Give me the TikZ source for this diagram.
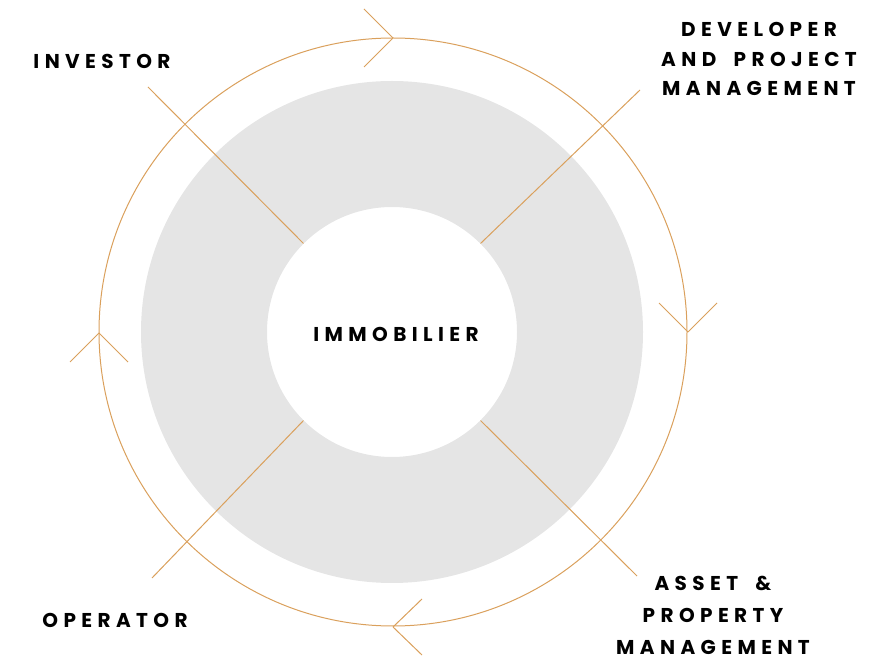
\documentclass[tikz,border=0pt]{standalone}
\usepackage{fontspec}
\usetikzlibrary{positioning}
\newfontfamily\labfont{Poppins}[LetterSpace=27,WordSpace=1.8]
\definecolor{ochre}{RGB}{218,160,92}
\definecolor{concrete}{RGB}{229,229,229}
\tikzstyle{lab}=[font=\labfont\bfseries\fontsize{20}{29.5}\selectfont,align=center,inner sep=0pt]
\tikzstyle{hub}=[circle,inner sep=0pt,minimum size=250pt]
\tikzstyle{cycle}=[ochre,line width=1pt]
\tikzstyle{spoke}=[ochre,line width=1pt]

\begin{document}
\begin{tikzpicture}[x=1pt,y=-1pt]
  \useasboundingbox (0,0) rectangle (871,660);
  % concrete ring
  \fill[concrete,even odd rule] (392,332) circle (251pt) (392,332) circle (125pt);
  \node[hub] (hub) at (392,332) {};
  \node[lab,xshift=4pt,yshift=-2pt] (core) at (hub) {IMMOBILIER};
  % cycle with chevrons
  \draw[cycle] (393,332) circle (294pt);
  \foreach \x/\y/\dx/\dy in {393/38/-29/-29, 393/38/-29/29,
                             688/332/-29/-29, 688/332/29/-29,
                             393/627/29/-28, 393/627/29/28,
                             99/333/-29/29, 99/333/29/29}
    {\draw[cycle] (\x,\y) -- ++(\dx,\dy);}
  % spokes
  \coordinate (nw) at (148,87);
  \coordinate (ne) at (640,90);
  \coordinate (se) at (637,576);
  \coordinate (sw) at (152,578);
  \draw[spoke] (hub.135) -- (nw);
  \draw[spoke] (hub.45) -- (ne);
  \draw[spoke] (hub.-45) -- (se);
  \draw[spoke] (hub.-135) -- (sw);
  % labels
  \node[lab] (investor) at (102,61) {INVESTOR};
  \node[lab] (developer) at (759,59) {DEVELOPER\\AND PROJECT\\MANAGEMENT};
  \node[lab,font=\labfont\bfseries\fontsize{20}{32}\selectfont] (asset) at (713,615) {ASSET \&\\PROPERTY\\MANAGEMENT};
  \node[lab] (operator) at (115,620) {OPERATOR};
\end{tikzpicture}
\end{document}
